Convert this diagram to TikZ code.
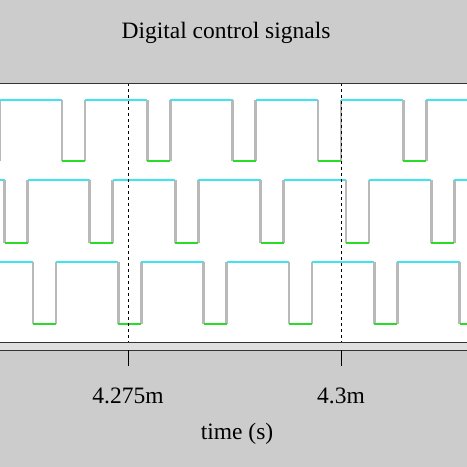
\documentclass[tikz,border=0pt]{standalone}
\usepackage{fontspec}
\setmainfont{Liberation Serif}
\definecolor{cy}{RGB}{60,230,240}
\definecolor{gr}{RGB}{40,220,40}
\begin{document}
\begin{tikzpicture}[x=1pt,y=-1pt,
  hi/.style={cy,line width=2.4pt},
  lo/.style={gr,line width=2.4pt},
  ed/.style={gray!55,line width=2.8pt},
  frame/.style={black!80,line width=1pt},
  lbl/.style={font=\fontsize{23.5}{26}\selectfont,inner sep=0pt}]
\fill[gray!40] (0,0) rectangle (467,467);
\useasboundingbox (0,0) rectangle (467,467);
\fill[white] (0,83) rectangle (467,342);
\fill[gray!25] (0,342) rectangle (467,350);
\begin{scope}
\clip (0,84) rectangle (467,341);
\foreach \s/\yh/\yl in {-23.4/100/161, 4.5/180/243, 33/262/324}{
  \foreach \k in {-1,...,6}{
    \pgfmathsetmacro\a{\s+85.35*\k}
    \pgfmathsetmacro\b{\a+23}
    \pgfmathsetmacro\c{\a+85.35}
    \draw[ed] (\a,\yh) -- (\a,\yl);
    \draw[ed] (\b,\yh) -- (\b,\yl);
    \draw[lo] (\a,\yl) -- (\b,\yl);
    \draw[hi] (\b,\yh) -- (\c,\yh);
  }
}
\end{scope}
\draw[black,line width=1pt,dash pattern=on 3pt off 3pt] (128,83) -- (128,342);
\draw[black,line width=1pt,dash pattern=on 3pt off 3pt] (341,83) -- (341,342);
\draw[frame] (0,83) -- (467,83);
\draw[frame] (0,342) -- (467,342);
\draw[frame] (0,350) -- (467,350);
\draw[black,line width=1pt] (128,350) -- (128,366);
\draw[black,line width=1pt] (341,350) -- (341,366);
\node[lbl] (title) at (226,33) {Digital control signals};
\node[lbl] (t1) at (128,396) {4.275m};
\node[lbl] (t2) at (341,396) {4.3m};
\node[lbl] (xl) at (237,434) {time (s)};
\end{tikzpicture}
\end{document}
